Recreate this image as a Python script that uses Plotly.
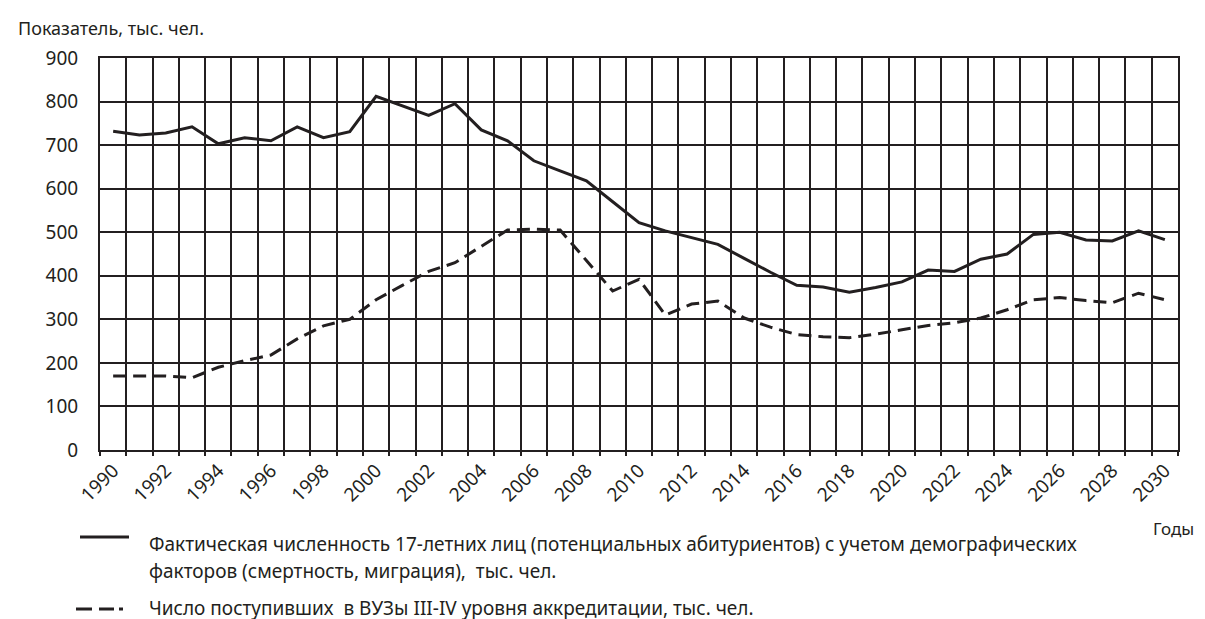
import plotly.graph_objects as go

years = list(range(1990, 2031))
potential_applicants = [732, 723, 728, 742, 703, 717, 710, 742, 717, 731,
                        812, 790, 768, 795, 735, 710, 664, 641, 618, 570,
                        522, 503, 488, 472, 440, 408, 378, 374, 362, 373,
                        386, 413, 410, 438, 450, 495, 500, 482, 480, 503, 483]
admitted = [170, 170, 170, 166, 190, 205, 218, 255, 285, 300,
            345, 378, 410, 430, 468, 505, 507, 505, 435, 365,
            392, 310, 335, 342, 303, 282, 265, 260, 258, 266,
            276, 286, 292, 303, 322, 345, 350, 343, 338, 360, 345]
tick_years = list(range(1990, 2031, 2))
y_ticks = list(range(0, 901, 100))

legend_solid = ("Фактическая численность 17-летних лиц (потенциальных абитуриентов) с учетом демографических",
                "факторов (смертность, миграция),  тыс. чел.")
legend_dashed = "Число поступивших  в ВУЗы III-IV уровня аккредитации, тыс. чел."
y_title = "Показатель, тыс. чел."
x_title = "Годы"

INK = "#231f20"
FONT = "Noto Sans"
W, H = 1205, 619
L, R, T, B = 92, 35, 50, 177
PW, PH = W - L - R, H - T - B


def px(x):
    return (x - L) / PW


def py(y):
    return (H - B - y) / PH


fig = go.Figure()
fig.add_trace(go.Scatter(x=years, y=potential_applicants, mode="lines",
                         line=dict(color=INK, width=3), showlegend=False))
fig.add_trace(go.Scatter(x=years, y=admitted, mode="lines",
                         line=dict(color=INK, width=3, dash="13px,7px"), showlegend=False))

fig.update_layout(
    width=W, height=H,
    margin=dict(l=L, r=R, t=T, b=B),
    paper_bgcolor="white", plot_bgcolor="white",
    font=dict(family=FONT, color=INK),
    xaxis=dict(
        range=[1989.5, 2030.5],
        tickmode="array", tickvals=tick_years, ticktext=[str(y) for y in tick_years],
        tickangle=-45, tickfont=dict(size=19, family=FONT, color=INK),
        showgrid=False, ticks="", showline=True, linecolor=INK, linewidth=2, mirror=True,
        minor=dict(tick0=1989.5, dtick=1, showgrid=True, gridcolor=INK, gridwidth=1.8,
                   ticks="outside", ticklen=4, tickcolor=INK, tickwidth=1.8),
        zeroline=False,
    ),
    yaxis=dict(
        range=[0, 900], tickmode="array", tickvals=y_ticks,
        tickfont=dict(size=19, family=FONT, color=INK),
        showgrid=True, gridcolor=INK, gridwidth=1.8, ticks="",
        ticklabelstandoff=16,
        showline=True, linecolor=INK, linewidth=2, mirror=True, zeroline=False,
    ),
)

annos = [
    dict(text=y_title, x=px(8), y=py(20), xanchor="left", yanchor="middle", font=dict(size=18)),
    dict(text=x_title, x=px(1143), y=py(520), xanchor="left", yanchor="middle", font=dict(size=17)),
    dict(text=legend_solid[0], x=px(139), y=py(536), xanchor="left", yanchor="middle", font=dict(size=19)),
    dict(text=legend_solid[1], x=px(139), y=py(563), xanchor="left", yanchor="middle", font=dict(size=19)),
    dict(text=legend_dashed, x=px(139), y=py(600), xanchor="left", yanchor="middle", font=dict(size=19)),
]
for a in annos:
    a.update(xref="paper", yref="paper", showarrow=False)
    a["font"].update(family=FONT, color=INK)
fig.update_layout(annotations=annos)

fig.add_shape(type="line", xref="paper", yref="paper", x0=px(72), x1=px(121), y0=py(529), y1=py(529),
              line=dict(color=INK, width=3))
fig.add_shape(type="line", xref="paper", yref="paper", x0=px(68), x1=px(115), y0=py(601), y1=py(601),
              line=dict(color=INK, width=3, dash="16px,7px,15px,5px"))

fig.write_html("out.html")
